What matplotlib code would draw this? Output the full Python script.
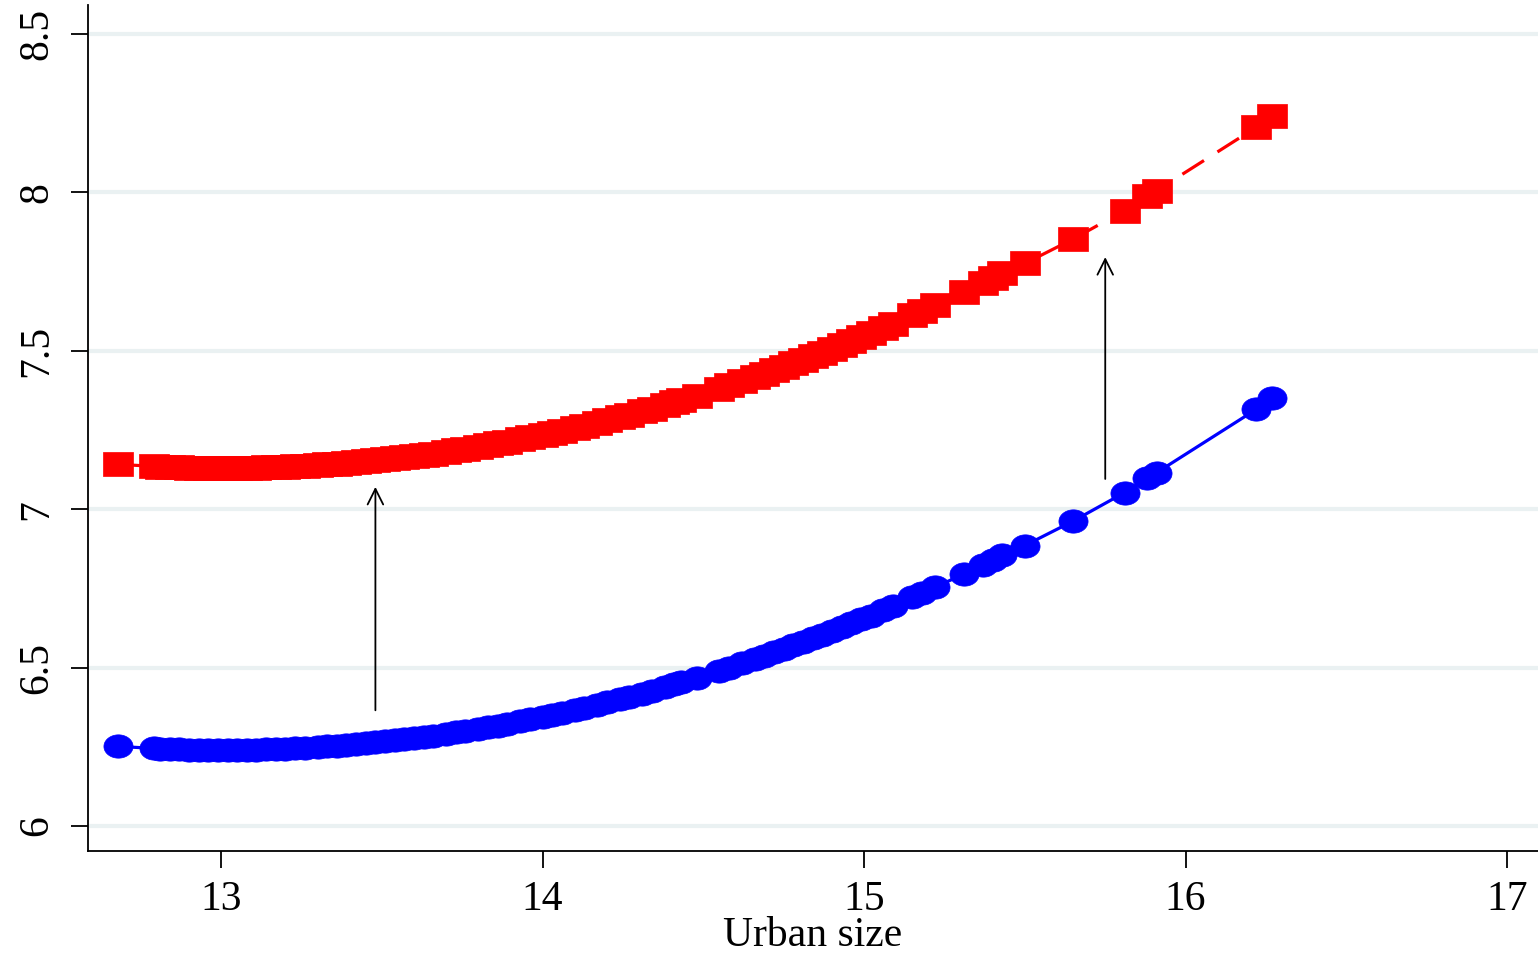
import numpy as np
import matplotlib
matplotlib.use("Agg")
import matplotlib.pyplot as plt
from matplotlib.path import Path

# --- data ---
urban_size = [
    12.68, 12.79, 12.81, 12.84, 12.87, 12.90, 12.93, 12.96, 12.99, 13.02,
    13.05, 13.08, 13.11, 13.14, 13.17, 13.20, 13.23, 13.26, 13.30, 13.33,
    13.36, 13.39, 13.42, 13.45, 13.48, 13.51, 13.54, 13.57, 13.60, 13.63,
    13.66, 13.70, 13.73, 13.76, 13.80, 13.83, 13.86, 13.89, 13.93, 13.96,
    14.00, 14.03, 14.06, 14.10, 14.13, 14.17, 14.20, 14.24, 14.27, 14.31,
    14.34, 14.38, 14.41, 14.43, 14.48, 14.55, 14.58, 14.62, 14.66, 14.69,
    14.72, 14.75, 14.78, 14.81, 14.84, 14.87, 14.90, 14.93, 14.96, 14.99,
    15.02, 15.06, 15.09, 15.15, 15.18, 15.22, 15.31, 15.37, 15.40, 15.43,
    15.50, 15.65, 15.81, 15.88, 15.91, 16.22, 16.27,
]
before = [
    6.251, 6.245, 6.244, 6.243, 6.242, 6.241, 6.240, 6.240, 6.240, 6.240,
    6.240, 6.241, 6.241, 6.242, 6.243, 6.244, 6.246, 6.247, 6.249, 6.251,
    6.253, 6.256, 6.258, 6.261, 6.264, 6.267, 6.270, 6.274, 6.277, 6.281,
    6.285, 6.291, 6.295, 6.300, 6.307, 6.312, 6.317, 6.322, 6.330, 6.336,
    6.344, 6.350, 6.357, 6.366, 6.373, 6.382, 6.390, 6.400, 6.408, 6.418,
    6.427, 6.438, 6.447, 6.453, 6.468, 6.490, 6.500, 6.513, 6.527, 6.537,
    6.548, 6.558, 6.570, 6.581, 6.592, 6.604, 6.615, 6.627, 6.640, 6.652,
    6.664, 6.681, 6.694, 6.721, 6.734, 6.753, 6.795, 6.824, 6.839, 6.854,
    6.885, 6.962, 7.052, 7.097, 7.115, 7.315, 7.350,
]
after = [
    7.141, 7.135, 7.134, 7.133, 7.132, 7.131, 7.130, 7.130, 7.130, 7.130,
    7.130, 7.131, 7.131, 7.132, 7.133, 7.134, 7.136, 7.137, 7.139, 7.141,
    7.143, 7.146, 7.148, 7.151, 7.154, 7.157, 7.160, 7.164, 7.167, 7.171,
    7.175, 7.181, 7.185, 7.190, 7.197, 7.202, 7.207, 7.212, 7.220, 7.226,
    7.234, 7.240, 7.247, 7.256, 7.263, 7.272, 7.280, 7.290, 7.298, 7.308,
    7.317, 7.328, 7.337, 7.343, 7.358, 7.380, 7.390, 7.403, 7.417, 7.427,
    7.438, 7.448, 7.460, 7.471, 7.482, 7.494, 7.505, 7.517, 7.530, 7.542,
    7.554, 7.571, 7.584, 7.611, 7.624, 7.643, 7.685, 7.714, 7.729, 7.744,
    7.775, 7.852, 7.942, 7.987, 8.005, 8.205, 8.240,
]
# arrows: (x, y_start, y_end)
arrows = [(13.48, 6.365, 7.07), (15.75, 7.095, 7.795)]

yticks = [6, 6.5, 7, 7.5, 8, 8.5]
xticks = [13, 14, 15, 16, 17]

plt.rcParams["font.family"] = ["Liberation Serif", "DejaVu Serif"]

# stretched markers (the original is wider than tall)
t = np.linspace(0, 2 * np.pi, 60)
ellipse = Path(np.column_stack([1.25 * np.cos(t), np.sin(t)]), closed=True)
rect = Path([(-1.3, -1), (1.3, -1), (1.3, 1), (-1.3, 1), (-1.3, -1)], closed=True)

fig = plt.figure(figsize=(15.38, 9.59), dpi=100)
ax = fig.add_axes([0.0572, 0.1126, 0.9428, 0.882])

for y in yticks:
    ax.axhline(y, color="#eaf1f2", lw=3, zorder=0)

ax.plot(urban_size, before, color="#0000ff", lw=2.3, ls="-",
        marker=ellipse, ms=21, mec="#0000ff", mfc="#0000ff", mew=0.5, zorder=3)
ax.plot(urban_size, after, color="#ff0000", lw=2.3, ls=(0, (8, 5)),
        marker=rect, ms=22, mec="#ff0000", mfc="#ff0000", mew=0.5, zorder=3)

for x, y0, y1 in arrows:
    ax.annotate("", xy=(x, y1), xytext=(x, y0),
                arrowprops=dict(arrowstyle="->", color="black", lw=1.3,
                                mutation_scale=28, shrinkA=0, shrinkB=0),
                zorder=4)

ax.set_xlim(12.586, 17.096)
ax.set_ylim(5.921, 8.59)
ax.set_xticks(xticks)
ax.set_yticks(yticks)
ax.set_yticklabels([f"{v:g}" for v in yticks], rotation=90, va="center")
ax.tick_params(axis="both", direction="out", length=12.5, width=1.3,
               labelsize=30)
ax.tick_params(axis="x", pad=9)
ax.tick_params(axis="y", pad=10)
ax.spines["top"].set_visible(False)
ax.spines["right"].set_visible(False)
ax.spines["left"].set_linewidth(1.3)
ax.spines["bottom"].set_linewidth(1.3)
ax.set_xlabel("Urban size", fontsize=30, labelpad=-2)

fig.savefig("out.png", dpi=100, facecolor="white")
